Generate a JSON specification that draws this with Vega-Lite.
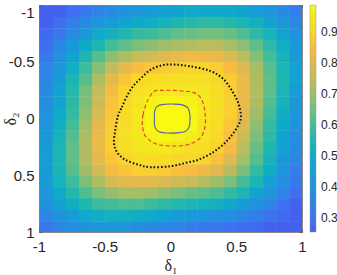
{
"$schema":"https://vega.github.io/schema/vega-lite/v6.json",
"width":263,"height":227,
"autosize":{"type":"none"},
"padding":{"left":39,"top":5,"right":35,"bottom":43},
"background":"white",
"config":{"view":{"stroke":"#8a8a8a","strokeWidth":1},
"axis":{"labelFont":"Liberation Sans","labelFontSize":15,"labelColor":"#262626","tickColor":"#555","tickWidth":0.8,"domain":false,"grid":false,"titleFont":"Liberation Serif","titleFontSize":16,"titleFontWeight":"normal","titleColor":"#262626","labelFlush":false,"labelOverlap":false,"zindex":1}},
"datasets":{
"grid":[
{"x":-1,"y":-1,"v":0.25},{"x":-0.9,"y":-1,"v":0.25},{"x":-0.8,"y":-1,"v":0.29},{"x":-0.7,"y":-1,"v":0.32},{"x":-0.6,"y":-1,"v":0.35},{"x":-0.5,"y":-1,"v":0.37},{"x":-0.4,"y":-1,"v":0.40},{"x":-0.3,"y":-1,"v":0.42},{"x":-0.2,"y":-1,"v":0.44},{"x":-0.1,"y":-1,"v":0.46},{"x":0,"y":-1,"v":0.47},{"x":0.1,"y":-1,"v":0.49},{"x":0.2,"y":-1,"v":0.49},{"x":0.3,"y":-1,"v":0.49},{"x":0.4,"y":-1,"v":0.49},{"x":0.5,"y":-1,"v":0.47},{"x":0.6,"y":-1,"v":0.44},{"x":0.7,"y":-1,"v":0.42},{"x":0.8,"y":-1,"v":0.37},{"x":0.9,"y":-1,"v":0.33},
{"x":-1,"y":-0.9,"v":0.25},{"x":-0.9,"y":-0.9,"v":0.29},{"x":-0.8,"y":-0.9,"v":0.33},{"x":-0.7,"y":-0.9,"v":0.37},{"x":-0.6,"y":-0.9,"v":0.42},{"x":-0.5,"y":-0.9,"v":0.44},{"x":-0.4,"y":-0.9,"v":0.47},{"x":-0.3,"y":-0.9,"v":0.50},{"x":-0.2,"y":-0.9,"v":0.51},{"x":-0.1,"y":-0.9,"v":0.53},{"x":0,"y":-0.9,"v":0.55},{"x":0.1,"y":-0.9,"v":0.56},{"x":0.2,"y":-0.9,"v":0.57},{"x":0.3,"y":-0.9,"v":0.57},{"x":0.4,"y":-0.9,"v":0.56},{"x":0.5,"y":-0.9,"v":0.54},{"x":0.6,"y":-0.9,"v":0.52},{"x":0.7,"y":-0.9,"v":0.47},{"x":0.8,"y":-0.9,"v":0.42},{"x":0.9,"y":-0.9,"v":0.36},
{"x":-1,"y":-0.8,"v":0.28},{"x":-0.9,"y":-0.8,"v":0.32},{"x":-0.8,"y":-0.8,"v":0.37},{"x":-0.7,"y":-0.8,"v":0.43},{"x":-0.6,"y":-0.8,"v":0.49},{"x":-0.5,"y":-0.8,"v":0.52},{"x":-0.4,"y":-0.8,"v":0.55},{"x":-0.3,"y":-0.8,"v":0.58},{"x":-0.2,"y":-0.8,"v":0.59},{"x":-0.1,"y":-0.8,"v":0.61},{"x":0,"y":-0.8,"v":0.63},{"x":0.1,"y":-0.8,"v":0.64},{"x":0.2,"y":-0.8,"v":0.65},{"x":0.3,"y":-0.8,"v":0.65},{"x":0.4,"y":-0.8,"v":0.64},{"x":0.5,"y":-0.8,"v":0.61},{"x":0.6,"y":-0.8,"v":0.57},{"x":0.7,"y":-0.8,"v":0.53},{"x":0.8,"y":-0.8,"v":0.47},{"x":0.9,"y":-0.8,"v":0.40},
{"x":-1,"y":-0.7,"v":0.29},{"x":-0.9,"y":-0.7,"v":0.36},{"x":-0.8,"y":-0.7,"v":0.43},{"x":-0.7,"y":-0.7,"v":0.50},{"x":-0.6,"y":-0.7,"v":0.55},{"x":-0.5,"y":-0.7,"v":0.60},{"x":-0.4,"y":-0.7,"v":0.63},{"x":-0.3,"y":-0.7,"v":0.66},{"x":-0.2,"y":-0.7,"v":0.68},{"x":-0.1,"y":-0.7,"v":0.70},{"x":0,"y":-0.7,"v":0.72},{"x":0.1,"y":-0.7,"v":0.73},{"x":0.2,"y":-0.7,"v":0.74},{"x":0.3,"y":-0.7,"v":0.74},{"x":0.4,"y":-0.7,"v":0.71},{"x":0.5,"y":-0.7,"v":0.68},{"x":0.6,"y":-0.7,"v":0.63},{"x":0.7,"y":-0.7,"v":0.57},{"x":0.8,"y":-0.7,"v":0.51},{"x":0.9,"y":-0.7,"v":0.43},
{"x":-1,"y":-0.6,"v":0.32},{"x":-0.9,"y":-0.6,"v":0.39},{"x":-0.8,"y":-0.6,"v":0.47},{"x":-0.7,"y":-0.6,"v":0.55},{"x":-0.6,"y":-0.6,"v":0.62},{"x":-0.5,"y":-0.6,"v":0.68},{"x":-0.4,"y":-0.6,"v":0.72},{"x":-0.3,"y":-0.6,"v":0.76},{"x":-0.2,"y":-0.6,"v":0.78},{"x":-0.1,"y":-0.6,"v":0.80},{"x":0,"y":-0.6,"v":0.82},{"x":0.1,"y":-0.6,"v":0.83},{"x":0.2,"y":-0.6,"v":0.83},{"x":0.3,"y":-0.6,"v":0.82},{"x":0.4,"y":-0.6,"v":0.79},{"x":0.5,"y":-0.6,"v":0.74},{"x":0.6,"y":-0.6,"v":0.67},{"x":0.7,"y":-0.6,"v":0.60},{"x":0.8,"y":-0.6,"v":0.53},{"x":0.9,"y":-0.6,"v":0.44},
{"x":-1,"y":-0.5,"v":0.35},{"x":-0.9,"y":-0.5,"v":0.42},{"x":-0.8,"y":-0.5,"v":0.51},{"x":-0.7,"y":-0.5,"v":0.59},{"x":-0.6,"y":-0.5,"v":0.67},{"x":-0.5,"y":-0.5,"v":0.75},{"x":-0.4,"y":-0.5,"v":0.81},{"x":-0.3,"y":-0.5,"v":0.85},{"x":-0.2,"y":-0.5,"v":0.87},{"x":-0.1,"y":-0.5,"v":0.88},{"x":0,"y":-0.5,"v":0.89},{"x":0.1,"y":-0.5,"v":0.90},{"x":0.2,"y":-0.5,"v":0.90},{"x":0.3,"y":-0.5,"v":0.88},{"x":0.4,"y":-0.5,"v":0.85},{"x":0.5,"y":-0.5,"v":0.79},{"x":0.6,"y":-0.5,"v":0.71},{"x":0.7,"y":-0.5,"v":0.62},{"x":0.8,"y":-0.5,"v":0.54},{"x":0.9,"y":-0.5,"v":0.46},
{"x":-1,"y":-0.4,"v":0.36},{"x":-0.9,"y":-0.4,"v":0.44},{"x":-0.8,"y":-0.4,"v":0.54},{"x":-0.7,"y":-0.4,"v":0.62},{"x":-0.6,"y":-0.4,"v":0.72},{"x":-0.5,"y":-0.4,"v":0.81},{"x":-0.4,"y":-0.4,"v":0.87},{"x":-0.3,"y":-0.4,"v":0.91},{"x":-0.2,"y":-0.4,"v":0.92},{"x":-0.1,"y":-0.4,"v":0.92},{"x":0,"y":-0.4,"v":0.93},{"x":0.1,"y":-0.4,"v":0.93},{"x":0.2,"y":-0.4,"v":0.93},{"x":0.3,"y":-0.4,"v":0.91},{"x":0.4,"y":-0.4,"v":0.88},{"x":0.5,"y":-0.4,"v":0.82},{"x":0.6,"y":-0.4,"v":0.72},{"x":0.7,"y":-0.4,"v":0.63},{"x":0.8,"y":-0.4,"v":0.55},{"x":0.9,"y":-0.4,"v":0.46},
{"x":-1,"y":-0.3,"v":0.37},{"x":-0.9,"y":-0.3,"v":0.46},{"x":-0.8,"y":-0.3,"v":0.56},{"x":-0.7,"y":-0.3,"v":0.65},{"x":-0.6,"y":-0.3,"v":0.75},{"x":-0.5,"y":-0.3,"v":0.84},{"x":-0.4,"y":-0.3,"v":0.90},{"x":-0.3,"y":-0.3,"v":0.93},{"x":-0.2,"y":-0.3,"v":0.94},{"x":-0.1,"y":-0.3,"v":0.95},{"x":0,"y":-0.3,"v":0.95},{"x":0.1,"y":-0.3,"v":0.95},{"x":0.2,"y":-0.3,"v":0.94},{"x":0.3,"y":-0.3,"v":0.92},{"x":0.4,"y":-0.3,"v":0.89},{"x":0.5,"y":-0.3,"v":0.82},{"x":0.6,"y":-0.3,"v":0.73},{"x":0.7,"y":-0.3,"v":0.63},{"x":0.8,"y":-0.3,"v":0.54},{"x":0.9,"y":-0.3,"v":0.44},
{"x":-1,"y":-0.2,"v":0.39},{"x":-0.9,"y":-0.2,"v":0.47},{"x":-0.8,"y":-0.2,"v":0.57},{"x":-0.7,"y":-0.2,"v":0.66},{"x":-0.6,"y":-0.2,"v":0.77},{"x":-0.5,"y":-0.2,"v":0.86},{"x":-0.4,"y":-0.2,"v":0.91},{"x":-0.3,"y":-0.2,"v":0.94},{"x":-0.2,"y":-0.2,"v":0.97},{"x":-0.1,"y":-0.2,"v":0.98},{"x":0,"y":-0.2,"v":0.98},{"x":0.1,"y":-0.2,"v":0.97},{"x":0.2,"y":-0.2,"v":0.95},{"x":0.3,"y":-0.2,"v":0.93},{"x":0.4,"y":-0.2,"v":0.89},{"x":0.5,"y":-0.2,"v":0.82},{"x":0.6,"y":-0.2,"v":0.72},{"x":0.7,"y":-0.2,"v":0.62},{"x":0.8,"y":-0.2,"v":0.53},{"x":0.9,"y":-0.2,"v":0.43},
{"x":-1,"y":-0.1,"v":0.40},{"x":-0.9,"y":-0.1,"v":0.50},{"x":-0.8,"y":-0.1,"v":0.58},{"x":-0.7,"y":-0.1,"v":0.68},{"x":-0.6,"y":-0.1,"v":0.79},{"x":-0.5,"y":-0.1,"v":0.87},{"x":-0.4,"y":-0.1,"v":0.92},{"x":-0.3,"y":-0.1,"v":0.95},{"x":-0.2,"y":-0.1,"v":0.98},{"x":-0.1,"y":-0.1,"v":0.99},{"x":0,"y":-0.1,"v":0.99},{"x":0.1,"y":-0.1,"v":0.98},{"x":0.2,"y":-0.1,"v":0.95},{"x":0.3,"y":-0.1,"v":0.92},{"x":0.4,"y":-0.1,"v":0.89},{"x":0.5,"y":-0.1,"v":0.81},{"x":0.6,"y":-0.1,"v":0.70},{"x":0.7,"y":-0.1,"v":0.60},{"x":0.8,"y":-0.1,"v":0.51},{"x":0.9,"y":-0.1,"v":0.42},
{"x":-1,"y":0,"v":0.42},{"x":-0.9,"y":0,"v":0.51},{"x":-0.8,"y":0,"v":0.60},{"x":-0.7,"y":0,"v":0.70},{"x":-0.6,"y":0,"v":0.81},{"x":-0.5,"y":0,"v":0.88},{"x":-0.4,"y":0,"v":0.92},{"x":-0.3,"y":0,"v":0.95},{"x":-0.2,"y":0,"v":0.98},{"x":-0.1,"y":0,"v":0.99},{"x":0,"y":0,"v":0.99},{"x":0.1,"y":0,"v":0.98},{"x":0.2,"y":0,"v":0.94},{"x":0.3,"y":0,"v":0.92},{"x":0.4,"y":0,"v":0.87},{"x":0.5,"y":0,"v":0.79},{"x":0.6,"y":0,"v":0.68},{"x":0.7,"y":0,"v":0.58},{"x":0.8,"y":0,"v":0.50},{"x":0.9,"y":0,"v":0.40},
{"x":-1,"y":0.1,"v":0.43},{"x":-0.9,"y":0.1,"v":0.53},{"x":-0.8,"y":0.1,"v":0.62},{"x":-0.7,"y":0.1,"v":0.72},{"x":-0.6,"y":0.1,"v":0.82},{"x":-0.5,"y":0.1,"v":0.89},{"x":-0.4,"y":0.1,"v":0.93},{"x":-0.3,"y":0.1,"v":0.95},{"x":-0.2,"y":0.1,"v":0.97},{"x":-0.1,"y":0.1,"v":0.98},{"x":0,"y":0.1,"v":0.97},{"x":0.1,"y":0.1,"v":0.96},{"x":0.2,"y":0.1,"v":0.94},{"x":0.3,"y":0.1,"v":0.91},{"x":0.4,"y":0.1,"v":0.86},{"x":0.5,"y":0.1,"v":0.77},{"x":0.6,"y":0.1,"v":0.66},{"x":0.7,"y":0.1,"v":0.57},{"x":0.8,"y":0.1,"v":0.47},{"x":0.9,"y":0.1,"v":0.39},
{"x":-1,"y":0.2,"v":0.44},{"x":-0.9,"y":0.2,"v":0.54},{"x":-0.8,"y":0.2,"v":0.63},{"x":-0.7,"y":0.2,"v":0.72},{"x":-0.6,"y":0.2,"v":0.82},{"x":-0.5,"y":0.2,"v":0.89},{"x":-0.4,"y":0.2,"v":0.92},{"x":-0.3,"y":0.2,"v":0.94},{"x":-0.2,"y":0.2,"v":0.95},{"x":-0.1,"y":0.2,"v":0.95},{"x":0,"y":0.2,"v":0.94},{"x":0.1,"y":0.2,"v":0.93},{"x":0.2,"y":0.2,"v":0.92},{"x":0.3,"y":0.2,"v":0.90},{"x":0.4,"y":0.2,"v":0.84},{"x":0.5,"y":0.2,"v":0.74},{"x":0.6,"y":0.2,"v":0.64},{"x":0.7,"y":0.2,"v":0.55},{"x":0.8,"y":0.2,"v":0.46},{"x":0.9,"y":0.2,"v":0.37},
{"x":-1,"y":0.3,"v":0.44},{"x":-0.9,"y":0.3,"v":0.54},{"x":-0.8,"y":0.3,"v":0.63},{"x":-0.7,"y":0.3,"v":0.72},{"x":-0.6,"y":0.3,"v":0.81},{"x":-0.5,"y":0.3,"v":0.87},{"x":-0.4,"y":0.3,"v":0.90},{"x":-0.3,"y":0.3,"v":0.92},{"x":-0.2,"y":0.3,"v":0.92},{"x":-0.1,"y":0.3,"v":0.92},{"x":0,"y":0.3,"v":0.91},{"x":0.1,"y":0.3,"v":0.91},{"x":0.2,"y":0.3,"v":0.90},{"x":0.3,"y":0.3,"v":0.86},{"x":0.4,"y":0.3,"v":0.80},{"x":0.5,"y":0.3,"v":0.71},{"x":0.6,"y":0.3,"v":0.62},{"x":0.7,"y":0.3,"v":0.53},{"x":0.8,"y":0.3,"v":0.43},{"x":0.9,"y":0.3,"v":0.36},
{"x":-1,"y":0.4,"v":0.44},{"x":-0.9,"y":0.4,"v":0.54},{"x":-0.8,"y":0.4,"v":0.62},{"x":-0.7,"y":0.4,"v":0.70},{"x":-0.6,"y":0.4,"v":0.78},{"x":-0.5,"y":0.4,"v":0.84},{"x":-0.4,"y":0.4,"v":0.87},{"x":-0.3,"y":0.4,"v":0.89},{"x":-0.2,"y":0.4,"v":0.89},{"x":-0.1,"y":0.4,"v":0.88},{"x":0,"y":0.4,"v":0.86},{"x":0.1,"y":0.4,"v":0.85},{"x":0.2,"y":0.4,"v":0.83},{"x":0.3,"y":0.4,"v":0.80},{"x":0.4,"y":0.4,"v":0.74},{"x":0.5,"y":0.4,"v":0.66},{"x":0.6,"y":0.4,"v":0.58},{"x":0.7,"y":0.4,"v":0.51},{"x":0.8,"y":0.4,"v":0.42},{"x":0.9,"y":0.4,"v":0.33},
{"x":-1,"y":0.5,"v":0.44},{"x":-0.9,"y":0.5,"v":0.53},{"x":-0.8,"y":0.5,"v":0.59},{"x":-0.7,"y":0.5,"v":0.66},{"x":-0.6,"y":0.5,"v":0.72},{"x":-0.5,"y":0.5,"v":0.78},{"x":-0.4,"y":0.5,"v":0.80},{"x":-0.3,"y":0.5,"v":0.81},{"x":-0.2,"y":0.5,"v":0.81},{"x":-0.1,"y":0.5,"v":0.79},{"x":0,"y":0.5,"v":0.77},{"x":0.1,"y":0.5,"v":0.76},{"x":0.2,"y":0.5,"v":0.73},{"x":0.3,"y":0.5,"v":0.70},{"x":0.4,"y":0.5,"v":0.66},{"x":0.5,"y":0.5,"v":0.60},{"x":0.6,"y":0.5,"v":0.54},{"x":0.7,"y":0.5,"v":0.46},{"x":0.8,"y":0.5,"v":0.39},{"x":0.9,"y":0.5,"v":0.32},
{"x":-1,"y":0.6,"v":0.42},{"x":-0.9,"y":0.6,"v":0.50},{"x":-0.8,"y":0.6,"v":0.56},{"x":-0.7,"y":0.6,"v":0.61},{"x":-0.6,"y":0.6,"v":0.66},{"x":-0.5,"y":0.6,"v":0.69},{"x":-0.4,"y":0.6,"v":0.71},{"x":-0.3,"y":0.6,"v":0.71},{"x":-0.2,"y":0.6,"v":0.70},{"x":-0.1,"y":0.6,"v":0.68},{"x":0,"y":0.6,"v":0.66},{"x":0.1,"y":0.6,"v":0.64},{"x":0.2,"y":0.6,"v":0.63},{"x":0.3,"y":0.6,"v":0.61},{"x":0.4,"y":0.6,"v":0.58},{"x":0.5,"y":0.6,"v":0.54},{"x":0.6,"y":0.6,"v":0.47},{"x":0.7,"y":0.6,"v":0.42},{"x":0.8,"y":0.6,"v":0.35},{"x":0.9,"y":0.6,"v":0.29},
{"x":-1,"y":0.7,"v":0.40},{"x":-0.9,"y":0.7,"v":0.46},{"x":-0.8,"y":0.7,"v":0.51},{"x":-0.7,"y":0.7,"v":0.55},{"x":-0.6,"y":0.7,"v":0.59},{"x":-0.5,"y":0.7,"v":0.60},{"x":-0.4,"y":0.7,"v":0.61},{"x":-0.3,"y":0.7,"v":0.61},{"x":-0.2,"y":0.7,"v":0.59},{"x":-0.1,"y":0.7,"v":0.57},{"x":0,"y":0.7,"v":0.56},{"x":0.1,"y":0.7,"v":0.55},{"x":0.2,"y":0.7,"v":0.53},{"x":0.3,"y":0.7,"v":0.52},{"x":0.4,"y":0.7,"v":0.49},{"x":0.5,"y":0.7,"v":0.44},{"x":0.6,"y":0.7,"v":0.40},{"x":0.7,"y":0.7,"v":0.36},{"x":0.8,"y":0.7,"v":0.30},{"x":0.9,"y":0.7,"v":0.26},
{"x":-1,"y":0.8,"v":0.36},{"x":-0.9,"y":0.8,"v":0.40},{"x":-0.8,"y":0.8,"v":0.44},{"x":-0.7,"y":0.8,"v":0.49},{"x":-0.6,"y":0.8,"v":0.51},{"x":-0.5,"y":0.8,"v":0.52},{"x":-0.4,"y":0.8,"v":0.52},{"x":-0.3,"y":0.8,"v":0.51},{"x":-0.2,"y":0.8,"v":0.50},{"x":-0.1,"y":0.8,"v":0.47},{"x":0,"y":0.8,"v":0.44},{"x":0.1,"y":0.8,"v":0.43},{"x":0.2,"y":0.8,"v":0.42},{"x":0.3,"y":0.8,"v":0.40},{"x":0.4,"y":0.8,"v":0.39},{"x":0.5,"y":0.8,"v":0.36},{"x":0.6,"y":0.8,"v":0.33},{"x":0.7,"y":0.8,"v":0.30},{"x":0.8,"y":0.8,"v":0.28},{"x":0.9,"y":0.8,"v":0.25},
{"x":-1,"y":0.9,"v":0.32},{"x":-0.9,"y":0.9,"v":0.35},{"x":-0.8,"y":0.9,"v":0.39},{"x":-0.7,"y":0.9,"v":0.40},{"x":-0.6,"y":0.9,"v":0.42},{"x":-0.5,"y":0.9,"v":0.42},{"x":-0.4,"y":0.9,"v":0.42},{"x":-0.3,"y":0.9,"v":0.39},{"x":-0.2,"y":0.9,"v":0.37},{"x":-0.1,"y":0.9,"v":0.36},{"x":0,"y":0.9,"v":0.35},{"x":0.1,"y":0.9,"v":0.33},{"x":0.2,"y":0.9,"v":0.32},{"x":0.3,"y":0.9,"v":0.32},{"x":0.4,"y":0.9,"v":0.30},{"x":0.5,"y":0.9,"v":0.29},{"x":0.6,"y":0.9,"v":0.28},{"x":0.7,"y":0.9,"v":0.25},{"x":0.8,"y":0.9,"v":0.25},{"x":0.9,"y":0.9,"v":0.25}
],
"contours":[
{"c":"k","i":0,"x":-0.40,"y":-0.02},{"c":"k","i":1,"x":-0.37,"y":-0.10},{"c":"k","i":2,"x":-0.33,"y":-0.20},{"c":"k","i":3,"x":-0.28,"y":-0.29},{"c":"k","i":4,"x":-0.22,"y":-0.36},{"c":"k","i":5,"x":-0.15,"y":-0.43},{"c":"k","i":6,"x":-0.06,"y":-0.47},{"c":"k","i":7,"x":0.03,"y":-0.475},{"c":"k","i":8,"x":0.15,"y":-0.46},{"c":"k","i":9,"x":0.30,"y":-0.42},{"c":"k","i":10,"x":0.40,"y":-0.35},{"c":"k","i":11,"x":0.47,"y":-0.24},{"c":"k","i":12,"x":0.52,"y":-0.12},{"c":"k","i":13,"x":0.535,"y":0.0},{"c":"k","i":14,"x":0.50,"y":0.09},{"c":"k","i":15,"x":0.45,"y":0.17},{"c":"k","i":16,"x":0.40,"y":0.23},{"c":"k","i":17,"x":0.32,"y":0.30},{"c":"k","i":18,"x":0.22,"y":0.36},{"c":"k","i":19,"x":0.12,"y":0.39},{"c":"k","i":20,"x":0.0,"y":0.42},{"c":"k","i":21,"x":-0.15,"y":0.43},{"c":"k","i":22,"x":-0.25,"y":0.405},{"c":"k","i":23,"x":-0.35,"y":0.36},{"c":"k","i":24,"x":-0.41,"y":0.29},{"c":"k","i":25,"x":-0.43,"y":0.21},{"c":"k","i":26,"x":-0.42,"y":0.10},
{"c":"r","i":0,"x":-0.214,"y":0.057},{"c":"r","i":1,"x":-0.209,"y":-0.031},{"c":"r","i":2,"x":-0.183,"y":-0.134},{"c":"r","i":3,"x":-0.158,"y":-0.192},{"c":"r","i":4,"x":-0.12,"y":-0.242},{"c":"r","i":5,"x":-0.057,"y":-0.248},{"c":"r","i":6,"x":0.02,"y":-0.248},{"c":"r","i":7,"x":0.096,"y":-0.242},{"c":"r","i":8,"x":0.172,"y":-0.23},{"c":"r","i":9,"x":0.223,"y":-0.192},{"c":"r","i":10,"x":0.248,"y":-0.134},{"c":"r","i":11,"x":0.261,"y":-0.06},{"c":"r","i":12,"x":0.266,"y":0.028},{"c":"r","i":13,"x":0.253,"y":0.116},{"c":"r","i":14,"x":0.223,"y":0.175},{"c":"r","i":15,"x":0.16,"y":0.219},{"c":"r","i":16,"x":0.083,"y":0.24},{"c":"r","i":17,"x":-0.006,"y":0.242},{"c":"r","i":18,"x":-0.082,"y":0.233},{"c":"r","i":19,"x":-0.145,"y":0.204},{"c":"r","i":20,"x":-0.196,"y":0.145},
{"c":"b","i":0,"x":-0.122,"y":0.0},{"c":"b","i":1,"x":-0.12,"y":-0.07},{"c":"b","i":2,"x":-0.095,"y":-0.112},{"c":"b","i":3,"x":-0.04,"y":-0.125},{"c":"b","i":4,"x":0.03,"y":-0.127},{"c":"b","i":5,"x":0.09,"y":-0.12},{"c":"b","i":6,"x":0.13,"y":-0.095},{"c":"b","i":7,"x":0.147,"y":-0.04},{"c":"b","i":8,"x":0.148,"y":0.03},{"c":"b","i":9,"x":0.14,"y":0.08},{"c":"b","i":10,"x":0.11,"y":0.115},{"c":"b","i":11,"x":0.05,"y":0.127},{"c":"b","i":12,"x":-0.02,"y":0.128},{"c":"b","i":13,"x":-0.08,"y":0.12},{"c":"b","i":14,"x":-0.113,"y":0.09},{"c":"b","i":15,"x":-0.123,"y":0.04}
]},
"layer":[
{"data":{"name":"grid"},
"mark":{"type":"rect","clip":true},
"encoding":{
"x":{"field":"x","type":"quantitative","bin":{"binned":true,"step":0.104},"scale":{"domain":[-1,1],"nice":false,"zero":false},
"axis":{"orient":"bottom","title":"δ₁","values":[-1,-0.9,-0.8,-0.7,-0.6,-0.5,-0.4,-0.3,-0.2,-0.1,0,0.1,0.2,0.3,0.4,0.5,0.6,0.7,0.8,0.9,1],"labelExpr":"(datum.value*2) % 1 == 0 ? toString(datum.value) : ''","tickSize":-3,"labelPadding":10,"titleX":131.5,"titleY":33,"titleBaseline":"middle","titleAlign":"center"}},
"y":{"field":"y","type":"quantitative","bin":{"binned":true,"step":0.104},"scale":{"domain":[-1,1],"reverse":true,"nice":false,"zero":false},
"axis":{"orient":"left","title":"δ₂","values":[-1,-0.9,-0.8,-0.7,-0.6,-0.5,-0.4,-0.3,-0.2,-0.1,0,0.1,0.2,0.3,0.4,0.5,0.6,0.7,0.8,0.9,1],"labelExpr":"(datum.value*2) % 1 == 0 ? toString(datum.value) : ''","labelBaseline":{"condition":{"test":"datum.value == -1","value":"top"},"value":"middle"},"tickSize":-3,"labelPadding":8,"titlePadding":-10}},
"color":{"field":"v","type":"quantitative","scale":{"type":"linear","domain":[0.255,0.3,0.35,0.4,0.45,0.5,0.55,0.6,0.65,0.7,0.75,0.8,0.85,0.9,0.95,0.987],"range":["#4460ee","#3d72f0","#2f84e6","#2192dc","#169ed6","#0eabc8","#1fb6b0","#44bc98","#72bf7e","#a0be68","#c2bc5a","#e0ba50","#f9bc40","#f9d52c","#f4e81e","#f9fa10"],"interpolate":"rgb","clamp":true},
"legend":{"type":"gradient","direction":"vertical","title":null,"orient":"right","offset":7,"padding":0,"gradientLength":227,"gradientThickness":6,"values":[0.3,0.4,0.5,0.6,0.7,0.8,0.9],"labelFont":"Liberation Sans","labelFontSize":12,"labelColor":"#262626","labelOffset":5,"labelOverlap":false,"gradientStrokeColor":"#999","gradientStrokeWidth":0.5}}
}},
{"data":{"name":"contours"},"transform":[{"filter":"datum.c == 'k'"}],
"mark":{"type":"line","interpolate":"cardinal-closed","color":"#111111","strokeWidth":2,"strokeDash":[1.6,2]},
"encoding":{
"x":{"field":"x","type":"quantitative","axis":{"orient":"top","title":null,"labels":false,"values":[-1,-0.9,-0.8,-0.7,-0.6,-0.5,-0.4,-0.3,-0.2,-0.1,0,0.1,0.2,0.3,0.4,0.5,0.6,0.7,0.8,0.9,1],"tickSize":-3}},
"y":{"field":"y","type":"quantitative","axis":{"orient":"right","title":null,"labels":false,"values":[-1,-0.9,-0.8,-0.7,-0.6,-0.5,-0.4,-0.3,-0.2,-0.1,0,0.1,0.2,0.3,0.4,0.5,0.6,0.7,0.8,0.9,1],"tickSize":-3}},
"order":{"field":"i","type":"quantitative"}}},
{"data":{"name":"contours"},"transform":[{"filter":"datum.c == 'r'"}],
"mark":{"type":"line","interpolate":"cardinal-closed","color":"#e53a24","strokeWidth":1.1,"strokeDash":[4,2.5]},
"encoding":{
"x":{"field":"x","type":"quantitative","axis":null},
"y":{"field":"y","type":"quantitative","axis":null},
"order":{"field":"i","type":"quantitative"}}},
{"data":{"name":"contours"},"transform":[{"filter":"datum.c == 'b'"}],
"mark":{"type":"line","interpolate":"cardinal-closed","color":"#5560a8","strokeWidth":1.1},
"encoding":{
"x":{"field":"x","type":"quantitative","axis":null},
"y":{"field":"y","type":"quantitative","axis":null},
"order":{"field":"i","type":"quantitative"}}}
],
"resolve":{"axis":{"x":"independent","y":"independent"}}
}
